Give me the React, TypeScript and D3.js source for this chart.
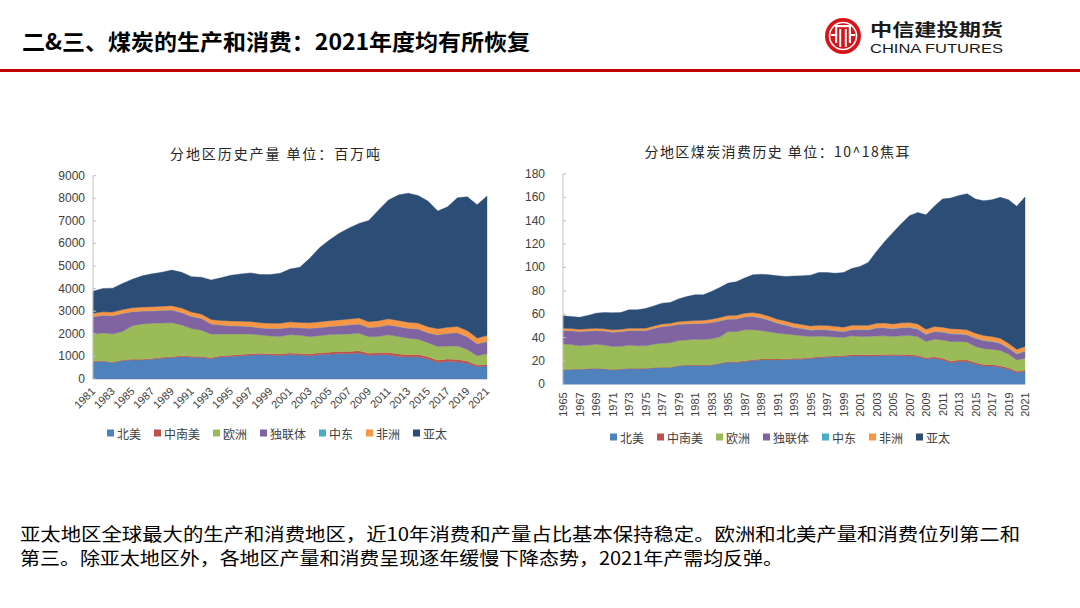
import React from 'react';
import * as d3 from 'd3';

// ---------- categories / legend ----------
const regions = ['北美', '中南美', '欧洲', '独联体', '中东', '非洲', '亚太'];
const regionColors = ['#4F81BD', '#C0504D', '#9BBB59', '#8064A2', '#4BACC6', '#F79646', '#2C4D75'];

// ---------- production (million tonnes), 1981-2021 ----------
const prodYears = d3.range(1981, 2022);
const prodNA = [770, 790, 720, 820, 840, 840, 870, 920, 950, 980, 960, 950, 900, 980, 1000, 1030, 1060, 1080, 1060, 1040, 1080, 1060, 1030, 1080, 1100, 1130, 1120, 1150, 1050, 1070, 1070, 1000, 970, 980, 890, 730, 780, 760, 700, 550, 570];
const prodSA = [15, 18, 20, 25, 30, 35, 35, 38, 40, 45, 45, 45, 45, 50, 50, 55, 60, 60, 60, 65, 70, 65, 75, 80, 85, 90, 95, 100, 95, 95, 105, 110, 105, 110, 100, 105, 105, 100, 100, 65, 75];
const prodEU = [1200, 1230, 1250, 1260, 1490, 1560, 1560, 1520, 1500, 1370, 1230, 1160, 1040, 960, 940, 910, 870, 810, 780, 780, 810, 810, 770, 760, 780, 760, 780, 770, 730, 720, 780, 770, 730, 670, 620, 600, 580, 600, 510, 410, 470];
const prodCIS = [770, 780, 810, 800, 620, 570, 550, 560, 560, 550, 530, 530, 450, 400, 370, 350, 330, 310, 340, 350, 330, 330, 370, 360, 360, 380, 400, 410, 400, 430, 440, 440, 440, 450, 440, 520, 560, 590, 560, 530, 540];
const prodME = [2, 2, 2, 2, 2, 2, 2, 2, 2, 2, 2, 2, 2, 2, 2, 2, 2, 2, 2, 2, 2, 2, 2, 2, 2, 2, 2, 2, 2, 2, 2, 2, 2, 2, 2, 2, 2, 2, 2, 2, 2];
const prodAF = [150, 155, 160, 165, 175, 180, 180, 185, 190, 195, 195, 190, 195, 200, 210, 215, 225, 230, 230, 235, 240, 235, 245, 250, 255, 255, 260, 265, 260, 265, 265, 270, 270, 265, 265, 265, 265, 270, 275, 255, 265];
const prodAP = [980, 1030, 1060, 1160, 1260, 1380, 1460, 1500, 1580, 1580, 1570, 1630, 1750, 1890, 2020, 2090, 2150, 2130, 2150, 2210, 2340, 2440, 2850, 3280, 3570, 3830, 4030, 4190, 4480, 4900, 5260, 5550, 5710, 5650, 5560, 5210, 5330, 5700, 5920, 5900, 6180];
const prodTicks = [0, 1000, 2000, 3000, 4000, 5000, 6000, 7000, 8000, 9000];

// ---------- consumption (EJ), 1965-2021 ----------
const consYears = d3.range(1965, 2022);
const consNA = [12.3, 12.6, 12.9, 13.2, 13.4, 13.0, 12.3, 12.8, 13.4, 13.3, 13.4, 14.0, 14.3, 14.3, 15.7, 16.0, 16.3, 16.0, 16.3, 17.5, 18.9, 18.6, 19.4, 20.3, 20.9, 20.9, 20.9, 21.0, 21.4, 21.5, 22.0, 22.7, 23.1, 23.4, 23.7, 24.3, 24.3, 24.2, 24.3, 24.6, 24.6, 24.4, 24.3, 23.7, 21.7, 22.3, 20.9, 18.6, 19.4, 19.4, 17.4, 15.7, 15.7, 14.6, 12.9, 10.0, 11.1];
const consSA = [0.3, 0.3, 0.3, 0.3, 0.3, 0.35, 0.35, 0.35, 0.35, 0.35, 0.4, 0.4, 0.4, 0.4, 0.4, 0.5, 0.5, 0.5, 0.5, 0.5, 0.7, 0.7, 0.7, 0.7, 0.7, 0.8, 0.8, 0.8, 0.8, 0.8, 0.9, 0.9, 0.9, 0.9, 0.9, 1.0, 1.0, 1.0, 1.0, 1.0, 1.1, 1.1, 1.1, 1.1, 1.1, 1.3, 1.3, 1.3, 1.3, 1.3, 1.3, 1.3, 1.3, 1.3, 1.3, 1.1, 1.2];
const consEU = [22.0, 21.1, 19.9, 20.0, 20.6, 20.2, 19.7, 19.4, 19.7, 19.4, 19.1, 19.8, 20.4, 20.8, 21.3, 21.5, 21.8, 21.8, 22.1, 22.5, 25.5, 25.7, 26.5, 25.6, 24.4, 23.3, 22.0, 21.2, 20.1, 19.2, 18.0, 17.6, 16.9, 16.2, 15.4, 16.2, 15.6, 15.8, 16.1, 15.9, 15.2, 16.0, 16.3, 16.1, 13.8, 15.0, 15.8, 16.6, 15.9, 15.3, 13.6, 13.5, 13.0, 13.0, 11.8, 9.8, 10.0];
const consCIS = [11.4, 11.8, 12.0, 12.1, 11.7, 12.0, 12.3, 12.5, 12.5, 12.9, 13.0, 13.6, 14.3, 14.5, 13.9, 13.6, 13.3, 13.7, 13.9, 13.7, 10.6, 10.8, 11.0, 11.4, 10.8, 9.7, 8.5, 7.6, 6.3, 6.1, 5.4, 5.5, 5.6, 5.2, 5.0, 5.0, 5.7, 5.4, 6.7, 6.7, 6.5, 6.8, 6.8, 6.2, 6.1, 6.3, 6.5, 6.5, 6.3, 6.1, 7.0, 6.8, 6.5, 6.1, 4.8, 5.0, 5.8];
const consME = [0.1, 0.1, 0.1, 0.1, 0.1, 0.1, 0.1, 0.1, 0.1, 0.1, 0.1, 0.1, 0.1, 0.1, 0.1, 0.2, 0.2, 0.2, 0.2, 0.2, 0.2, 0.2, 0.2, 0.2, 0.2, 0.3, 0.3, 0.3, 0.3, 0.3, 0.3, 0.3, 0.3, 0.3, 0.3, 0.4, 0.4, 0.4, 0.4, 0.4, 0.4, 0.4, 0.4, 0.4, 0.4, 0.4, 0.4, 0.4, 0.4, 0.4, 0.4, 0.4, 0.4, 0.4, 0.4, 0.4, 0.4];
const consAF = [1.9, 1.9, 1.9, 1.9, 1.9, 1.9, 1.9, 1.9, 2.0, 2.0, 2.0, 2.1, 2.2, 2.2, 2.3, 2.4, 2.5, 2.6, 2.7, 2.8, 3.0, 3.0, 3.1, 3.2, 3.3, 3.2, 3.2, 3.3, 3.4, 3.3, 3.4, 3.5, 3.5, 3.6, 3.6, 3.6, 3.6, 3.7, 3.8, 3.9, 3.9, 3.9, 4.0, 4.2, 4.0, 4.1, 4.0, 4.2, 4.1, 4.1, 4.0, 4.1, 4.0, 4.0, 3.9, 3.7, 3.8];
const consAP = [10.6, 10.2, 10.3, 11.3, 12.9, 13.9, 14.5, 14.4, 15.7, 15.7, 16.9, 17.1, 17.7, 17.7, 19.4, 20.9, 22.0, 21.8, 23.7, 25.7, 27.7, 28.7, 30.0, 32.3, 34.0, 35.5, 37.2, 38.1, 40.3, 41.7, 43.4, 45.2, 45.4, 45.5, 46.8, 48.6, 50.3, 53.8, 61.4, 69.8, 78.3, 84.8, 91.4, 95.4, 98.0, 102.9, 109.7, 111.8, 114.3, 116.5, 114.9, 115.3, 117.1, 120.6, 122.9, 122.3, 128.0];
const consTicks = [0, 20, 40, 60, 80, 100, 120, 140, 160, 180];

// ---------- text ----------
const headerTitle = '二&三、煤炭的生产和消费：2021年度均有所恢复';
const prodTitle = '分地区历史产量 单位：百万吨';
const consTitle = '分地区煤炭消费历史 单位：10^18焦耳';
const footerLines = [
  '亚太地区全球最大的生产和消费地区，近10年消费和产量占比基本保持稳定。欧洲和北美产量和消费位列第二和',
  '第三。除亚太地区外，各地区产量和消费呈现逐年缓慢下降态势，2021年产需均反弹。',
];

const CJK = '"Noto Sans CJK SC", "Noto Sans", sans-serif';
const LATIN = '"Liberation Sans", Arial, sans-serif';

type ChartProps = {
  years: number[];
  series: number[][];
  xLeft: number;
  xRight: number;
  yBottom: number;
  yTop: number;
  yMax: number;
  ticks: number[];
  tickLabelX: number;
  labelMode: 'diag' | 'vert';
  legendCx: number;
  legendY: number;
  title: string;
  titleCx: number;
  titleY: number;
  titleLen: number;
  bottomLine: boolean;
};

function StackedArea(p: ChartProps) {
  const rows = p.years.map((yr, i) => {
    const r: any = { year: yr };
    regions.forEach((k, j) => (r[k] = p.series[j][i]));
    return r;
  });
  const stacked = d3.stack<any>().keys(regions)(rows);
  const x = d3.scaleLinear().domain([p.years[0], p.years[p.years.length - 1]]).range([p.xLeft, p.xRight]);
  const y = d3.scaleLinear().domain([0, p.yMax]).range([p.yBottom, p.yTop]);
  const area = d3
    .area<any>()
    .x((d) => x(d.data.year))
    .y0((d) => y(d[0]))
    .y1((d) => y(d[1]));

  const labelYears = p.years.filter((_, i) => i % 2 === 0);

  // legend layout
  const fs = 12;
  const sq = 7;
  const gap = 3;
  const itemGap = 13;
  const widths = regions.map((r) => sq + gap + r.length * fs);
  const total = d3.sum(widths) + itemGap * (regions.length - 1);
  let cur = p.legendCx - total / 2;
  const legendItems = regions.map((r, i) => {
    const it = { x: cur, name: r, color: regionColors[i] };
    cur += widths[i] + itemGap;
    return it;
  });

  return (
    <g>
      <text
        x={p.titleCx}
        y={p.titleY}
        textAnchor="middle"
        dominantBaseline="central"
        fontFamily={CJK}
        fontSize={14}
        fill="#262626"
        textLength={p.titleLen}
        lengthAdjust="spacing"
      >
        {p.title}
      </text>
      {stacked.map((s, i) => (
        <path key={regions[i]} d={area(s) || ''} fill={regionColors[i]} stroke={regionColors[i]} strokeWidth={0.4} />
      ))}
      {/* y axis */}
      <line x1={p.xLeft} x2={p.xLeft} y1={p.yBottom} y2={y(p.yMax)} stroke="#BFBFBF" strokeWidth={1} />
      {p.ticks.map((t) => (
        <g key={t}>
          <line x1={p.xLeft} x2={p.xLeft + 3} y1={y(t)} y2={y(t)} stroke="#BFBFBF" strokeWidth={1} />
          <text
            x={p.tickLabelX}
            y={y(t)}
            textAnchor="end"
            dominantBaseline="central"
            fontFamily={LATIN}
            fontSize={12}
            fill="#404040"
          >
            {t}
          </text>
        </g>
      ))}
      {p.bottomLine && (
        <line x1={p.xLeft} x2={p.xRight} y1={p.yBottom + 0.5} y2={p.yBottom + 0.5} stroke="#D9D9D9" strokeWidth={1} />
      )}
      {labelYears.map((yr) =>
        p.labelMode === 'diag' ? (
          <text
            key={yr}
            transform={`translate(${x(yr) + 3},${p.yBottom + 13}) rotate(-45)`}
            textAnchor="end"
            fontFamily={LATIN}
            fontSize={11}
            fill="#404040"
          >
            {yr}
          </text>
        ) : (
          <text
            key={yr}
            transform={`translate(${x(yr)},${p.yBottom + 8}) rotate(-90)`}
            textAnchor="end"
            dominantBaseline="central"
            fontFamily={LATIN}
            fontSize={11}
            fill="#404040"
          >
            {yr}
          </text>
        )
      )}
      {legendItems.map((it) => (
        <g key={it.name}>
          <rect x={it.x} y={p.legendY - sq / 2} width={sq} height={sq} fill={it.color} />
          <text
            x={it.x + sq + gap}
            y={p.legendY}
            dominantBaseline="central"
            fontFamily={CJK}
            fontSize={fs}
            fill="#404040"
          >
            {it.name}
          </text>
        </g>
      ))}
    </g>
  );
}

function Logo() {
  const cx = 843;
  const cy = 36;
  return (
    <g>
      <circle cx={cx} cy={cy} r={18} fill="#D7141A" />
      <circle cx={cx} cy={cy} r={13.5} fill="none" stroke="#fff" strokeWidth={1.6} />
      <rect x={cx - 8} y={cy - 11} width={16} height={2.2} fill="#fff" />
      <rect x={cx - 8} y={cy - 11} width={2.2} height={18} fill="#fff" />
      <rect x={cx + 5.8} y={cy - 11} width={2.2} height={18} fill="#fff" />
      <rect x={cx - 3.8} y={cy - 7} width={2} height={18} fill="#fff" />
      <rect x={cx + 1.8} y={cy - 7} width={2} height={18} fill="#fff" />
      <rect x={cx - 12} y={cy - 2} width={4} height={2} fill="#fff" />
      <rect x={cx + 8} y={cy - 2} width={4} height={2} fill="#fff" />
    </g>
  );
}

export default function App() {
  return (
    <div style={{ position: 'absolute', left: 0, top: 0, width: 1080, height: 608, background: '#fff' }}>
      <svg width={1080} height={608} viewBox="0 0 1080 608" style={{ display: 'block' }}>
        <rect x={0} y={0} width={1080} height={608} fill="#fff" />
        {/* header */}
        <text x={22} y={40} dominantBaseline="central" fontFamily={CJK} fontWeight={700} fontSize={22} fill="#000" textLength={508} lengthAdjust="spacingAndGlyphs">
          {headerTitle}
        </text>
        <Logo />
        <text x={870} y={28} dominantBaseline="central" fontFamily={CJK} fontWeight={700} fontSize={17} fill="#1a1a1a" textLength={133} lengthAdjust="spacingAndGlyphs">
          中信建投期货
        </text>
        <text x={870} y={49} dominantBaseline="central" fontFamily={LATIN} fontSize={12} fill="#1a1a1a" textLength={133} lengthAdjust="spacingAndGlyphs">
          CHINA FUTURES
        </text>
        <rect x={0} y={69} width={1080} height={3} fill="#C00000" />

        <StackedArea
          years={prodYears}
          series={[prodNA, prodSA, prodEU, prodCIS, prodME, prodAF, prodAP]}
          xLeft={93}
          xRight={487}
          yBottom={379}
          yTop={175.7}
          yMax={9000}
          ticks={prodTicks}
          tickLabelX={85}
          labelMode="diag"
          legendCx={277}
          legendY={433}
          title={prodTitle}
          titleCx={275}
          titleY={153}
          titleLen={210}
          bottomLine={true}
        />
        <StackedArea
          years={consYears}
          series={[consNA, consSA, consEU, consCIS, consME, consAF, consAP]}
          xLeft={563}
          xRight={1025}
          yBottom={384.3}
          yTop={174}
          yMax={180}
          ticks={consTicks}
          tickLabelX={545}
          labelMode="vert"
          legendCx={780}
          legendY={437}
          title={consTitle}
          titleCx={777}
          titleY={151}
          titleLen={265}
          bottomLine={false}
        />

        {footerLines.map((l, i) => (
          <text key={i} x={20} y={533 + i * 24} dominantBaseline="central" fontFamily={CJK} fontSize={18} fill="#000" textLength={i === 0 ? 1000 : 763} lengthAdjust="spacingAndGlyphs">
            {l}
          </text>
        ))}
      </svg>
    </div>
  );
}
